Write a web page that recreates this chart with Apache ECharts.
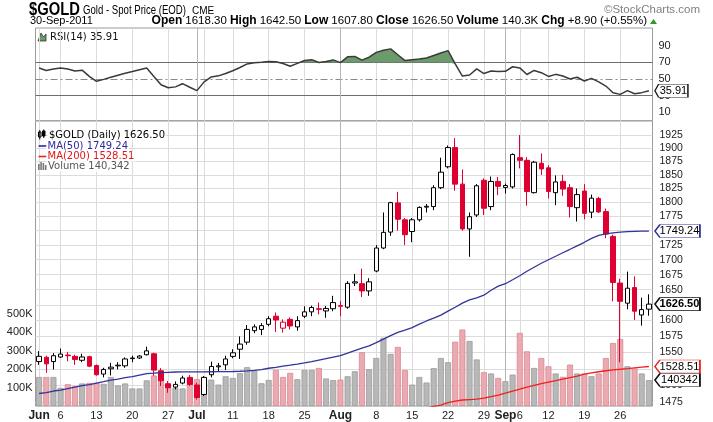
<!DOCTYPE html>
<html><head><meta charset="utf-8">
<script src="https://cdn.jsdelivr.net/npm/echarts@6/dist/echarts.min.js"></script>
<style>html,body{margin:0;padding:0;background:#fff}#c{width:713px;height:422px}</style>
</head><body><div id="c"></div>
<script>
// ---- categories (trading days) ----
const dates = [
 '2011-06-01','2011-06-02','2011-06-03','2011-06-06','2011-06-07','2011-06-08','2011-06-09','2011-06-10','2011-06-13','2011-06-14',
 '2011-06-15','2011-06-16','2011-06-17','2011-06-20','2011-06-21','2011-06-22','2011-06-23','2011-06-24','2011-06-27','2011-06-28',
 '2011-06-29','2011-06-30','2011-07-01','2011-07-05','2011-07-06','2011-07-07','2011-07-08','2011-07-11','2011-07-12','2011-07-13',
 '2011-07-14','2011-07-15','2011-07-18','2011-07-19','2011-07-20','2011-07-21','2011-07-22','2011-07-25','2011-07-26','2011-07-27',
 '2011-07-28','2011-07-29','2011-08-01','2011-08-02','2011-08-03','2011-08-04','2011-08-05','2011-08-08','2011-08-09','2011-08-10',
 '2011-08-11','2011-08-12','2011-08-15','2011-08-16','2011-08-17','2011-08-18','2011-08-19','2011-08-22','2011-08-23','2011-08-24',
 '2011-08-25','2011-08-26','2011-08-29','2011-08-30','2011-08-31','2011-09-01','2011-09-02','2011-09-06','2011-09-07','2011-09-08',
 '2011-09-09','2011-09-12','2011-09-13','2011-09-14','2011-09-15','2011-09-16','2011-09-19','2011-09-20','2011-09-21','2011-09-22',
 '2011-09-23','2011-09-26','2011-09-27','2011-09-28','2011-09-29','2011-09-30'];

// ---- series values ----
const opens = [
 1536,1542.5,1536,1543,1546,1544,1538,1543.5,1530,1517,
 1525,1529.5,1529.5,1540.5,1541.5,1546.5,1548,1522,1502.5,1497.5,
 1503.5,1512,1500.5,1486.5,1516,1528,1531,1544,1555,1566,
 1584,1586,1594,1607,1588,1602,1590,1607,1614,1619,
 1615.5,1619,1624,1621.5,1661,1660,1648,1681,1720,1747.5,
 1799,1769,1748.5,1769,1791.5,1792.5,1826.5,1865,1901,1833,
 1753,1777.5,1840,1792.5,1838,1827,1828,1882,1877,1817.5,
 1871.5,1863,1817.5,1838,1826.5,1790.5,1820.5,1782.5,1807,1783.5,
 1740,1661,1628,1653.5,1609,1618.3];
const highs = [
 1552,1545,1549,1556,1551,1546.5,1548,1545,1531.5,1526.5,
 1534,1535,1542.5,1545,1546,1559,1549.5,1526,1506.5,1506,
 1514.5,1515.5,1504,1514,1536,1534,1545,1555,1575,1593,
 1594,1596,1607,1613,1602,1605,1607,1623,1624,1629,
 1623.5,1640,1631.5,1664,1676,1685,1669,1725,1782,1801,
 1819,1772,1772,1793,1797,1831,1882,1905,1919,1860,
 1782,1833,1843.5,1847,1846,1834,1890,1925,1883,1876,
 1890,1868,1849,1850,1833,1825,1833,1814,1810,1789,
 1743,1668,1680,1672,1637,1642.5];
const lows = [
 1531,1519,1524,1541.5,1536.5,1531,1535,1527.5,1514.5,1512,
 1515,1524,1526.5,1535,1540,1545.5,1514.5,1499,1489,1494,
 1501.5,1499,1479,1484,1512,1521,1523,1541,1540,1562,
 1580,1577,1591,1582,1581,1586,1584,1604,1607,1610,
 1604.5,1615,1607,1619,1656,1638,1640,1679,1718,1741,
 1750,1725,1730,1766,1782,1786,1824,1862,1821,1750,
 1705,1774,1777.5,1786,1813,1816,1825,1862,1794,1816,
 1850,1807,1795,1812,1773,1766,1770,1772,1781,1737,
 1631,1535,1618,1601,1592,1607.8];
const closes = [
 1544,1532.5,1545,1547.5,1545,1539,1543,1529,1516,1524,
 1527.5,1530.5,1540,1541.5,1544.5,1552.5,1523,1507,1496.5,1501.5,
 1511,1501.5,1482,1512,1528.5,1529.5,1540,1549.5,1563,1586,
 1590,1592,1603,1601,1597.5,1591.5,1600,1614,1621,1618,
 1619.5,1629,1623,1660.5,1663,1648,1663,1720,1747,1799.5,
 1770,1743,1769,1791,1793,1826.5,1855,1901,1833,1753,
 1774.5,1830,1789.5,1838,1829,1830.5,1888,1877,1819.5,1873.5,
 1861,1819.5,1837,1824,1792.5,1814,1780.5,1807.5,1783,1744,
 1662,1631,1652.5,1615,1617.6,1626.5];
const volumes = [
 157000,157000,157000,98000,118000,108000,122000,125000,125000,120000,
 157000,111000,122000,95000,95000,139000,165000,147000,104000,98000,
 95000,152000,145000,143000,143000,116000,161000,152000,178000,210000,
 191000,123000,141000,196000,157000,179000,145000,195000,195000,206000,
 149000,140000,143000,161000,188000,291000,199000,260000,369000,282000,
 320000,194000,116000,157000,127000,205000,260000,237000,348000,414000,
 352000,252000,183000,176000,152000,134000,170000,396000,296000,206000,
 260000,215000,176000,158000,224000,176000,176000,161000,176000,260000,
 341000,363000,215000,203000,176000,140342];
const ma50 = [
 1487.9,1489.3,1491.6,1493.0,1495.3,1497.5,1499.7,1501.2,1503.5,1505.7,
 1508.0,1509.5,1511.7,1513.2,1515.5,1517.8,1518.5,1519.3,1519.7,1520.1,
 1520.2,1520.3,1520.3,1520.4,1520.5,1520.6,1520.8,1520.9,1521.3,1521.9,
 1522.6,1523.8,1525.8,1527.1,1529.1,1530.6,1532.2,1534.0,1536.0,1538.3,
 1540.6,1542.9,1545.2,1549.0,1552.9,1556.7,1560.3,1565.3,1570.7,1576.2,
 1581.4,1584.9,1588.8,1594.4,1599.4,1603.9,1608.7,1615.1,1621.5,1628.0,
 1633.4,1636.5,1641.0,1649.2,1655.8,1659.9,1666.5,1673.2,1680.6,1687.4,
 1694.1,1700.0,1705.9,1711.9,1717.8,1723.8,1729.8,1736.7,1741.9,1744.5,
 1746.3,1747.5,1748.4,1748.8,1749.1,1749.24];
const ma200 = [
 null,null,null,null,null,null,null,null,null,null,
 null,null,null,null,null,null,null,null,null,null,
 null,null,null,null,null,null,null,null,null,null,
 null,null,null,null,null,null,null,null,null,null,
 null,null,null,null,null,null,null,null,null,null,
 null,null,null,1464.0,1466.5,1469.0,1470.9,1474.6,1476.8,1478.3,
 1479.0,1479.7,1481.2,1483.4,1485.6,1488.6,1491.6,1494.5,1497.5,1500.1,
 1502.7,1505.0,1507.2,1509.5,1511.7,1514.0,1517.0,1518.8,1520.5,1522.0,
 1523.4,1524.3,1525.3,1526.4,1527.5,1528.51];
const rsi14 = [
 63,60.2,61.8,63.2,62,59.5,60.5,53,47.2,49.5,
 52,54.5,56.7,58.8,61,63.2,53,43,39.5,40.5,
 44.3,40,36,46.5,52.4,53.7,56.5,59.8,63.7,68,
 69.3,70.1,71,70.5,68.5,65.2,68.7,72.1,73.1,69.7,
 71,72.8,69.5,76.5,77,72.5,76,81.8,84.3,86,
 79,72,73,74,75.1,78,81,83.9,68,53.5,
 54.7,62,56.5,59.5,58.8,59.2,64.6,63.2,55.3,60.2,
 57.5,53,55.5,53.5,50,52,47.5,50.7,46.5,41.5,
 33.5,31.5,36,32.2,33.6,35.91];
const rsiOverbought = 70;

// ---- tick labels ----
const priceTicks = [1475,1500,1525,1550,1575,1600,1625,1650,1675,1700,1725,1750,1775,1800,1825,1850,1875,1900,1925];
const rsiTicks = [10,30,50,70,90];
const volumeTicks = [100000,200000,300000,400000,500000];
const xTickLabels = {'2011-06-01':'Jun','2011-06-06':'6','2011-06-13':'13','2011-06-20':'20','2011-06-27':'27',
 '2011-07-01':'Jul','2011-07-11':'11','2011-07-18':'18','2011-07-25':'25','2011-08-01':'Aug','2011-08-08':'8',
 '2011-08-15':'15','2011-08-22':'22','2011-08-29':'29','2011-09-01':'Sep','2011-09-06':'6','2011-09-12':'12',
 '2011-09-19':'19','2011-09-26':'26'};
const monthNames = ['Jun','Jul','Aug','Sep'];
const weekStarts = ['2011-06-01','2011-06-06','2011-06-13','2011-06-20','2011-06-27','2011-07-05','2011-07-11','2011-07-18',
 '2011-07-25','2011-08-01','2011-08-08','2011-08-15','2011-08-22','2011-08-29','2011-09-06','2011-09-12','2011-09-19','2011-09-26'];
const monthStarts = ['2011-07-01','2011-08-01','2011-09-01'];

// ---- styling ----
const UP = '#000000', DOWN = '#dd0030';
const FONT = '"Liberation Sans", Arial, sans-serif';
const VFONT = '"DejaVu Sans", Verdana, sans-serif';
const last = dates.length - 1;

const isUp = i => i === 0 || closes[i] >= closes[i - 1];
const ohlc = i => [opens[i], closes[i], lows[i], highs[i]];
const blackCandles = dates.map((d, i) => isUp(i) ? ohlc(i) : '-');
const redCandles = dates.map((d, i) => isUp(i) ? '-' : ohlc(i));
const volumeData = dates.map((d, i) => ({value: volumes[i],
  itemStyle: isUp(i) ? {color: '#b8b8b8', borderColor: '#9a9a9a', borderWidth: 0.8}
                     : {color: '#ebaab1', borderColor: '#d98892', borderWidth: 0.8}}));
const rsiBase = rsi14.map(v => Math.min(v, rsiOverbought));
const rsiOver = rsi14.map(v => Math.max(v - rsiOverbought, 0));

const monthMark = monthStarts.map(d => ({xAxis: d}));

function tag(xIdx, yIdx, value, text, border, offX, w, bold) {
  return {type: 'scatter', xAxisIndex: xIdx, yAxisIndex: yIdx, clip: false, silent: true, z: 20,
    data: [[dates[last], value]],
    symbol: 'path://M0,6.5L5,0L45,0L45,13L5,13Z', symbolSize: [w, 13], symbolOffset: [offX, 0],
    itemStyle: {color: '#ffffff', borderColor: border, borderWidth: 1, opacity: 1},
    label: {show: true, position: 'inside', formatter: text, color: '#000', fontFamily: FONT, fontSize: 11,
      fontWeight: bold ? 'bold' : 'normal', offset: [2, 0]}};
}

const xBase = (gi, showLabels) => ({
  type: 'category', gridIndex: gi, data: dates, boundaryGap: true,
  axisLine: {show: false}, axisTick: {show: false},
  axisLabel: showLabels ? {
    show: true, interval: (i, v) => v in xTickLabels, margin: 4, color: '#222', fontFamily: FONT, fontSize: 11,
    formatter: v => { const t = xTickLabels[v]; return monthNames.includes(t) ? '{m|' + t + '}' : t; },
    rich: {m: {fontWeight: 'bold', fontSize: 12, color: '#222', fontFamily: FONT}}
  } : {show: false},
  splitLine: {show: true, interval: (i, v) => weekStarts.includes(v), alignWithLabel: true,
    lineStyle: {color: '#dcdcdc', width: 1}}
});

const candleSeries = (name, data, col) => ({name, type: 'candlestick', xAxisIndex: 1, yAxisIndex: 1, data,
  barWidth: 5, z: 4, itemStyle: {color: '#ffffff', color0: col, borderColor: col, borderColor0: col, borderColorDoji: col, borderWidth: 1}});

const legendText = (x, y, text, fill) => ({type: 'text', x, y, z: 10,
  style: {text, font: '10px ' + VFONT, fill, verticalAlign: 'middle', backgroundColor: '#fff', padding: [0, 1]}});

const option = {
  animation: false,
  backgroundColor: '#ffffff',
  textStyle: {fontFamily: FONT},
  grid: [
    {left: 35.5, top: 28, width: 617, height: 92.7, show: true, borderColor: '#9a9a9a', borderWidth: 1, backgroundColor: '#fff'},
    {left: 35.5, top: 121, width: 617, height: 285.5, show: true, borderColor: '#9a9a9a', borderWidth: 1, backgroundColor: '#fff'}
  ],
  xAxis: [xBase(0, false), xBase(1, true)],
  yAxis: [
    {gridIndex: 0, type: 'value', min: 0, max: 111, position: 'right',
      axisLine: {show: false}, axisTick: {show: false}, splitLine: {show: false},
      axisLabel: {customValues: rsiTicks, margin: 6, color: '#222', fontSize: 11, fontFamily: FONT}},
    {gridIndex: 1, type: 'log', logBase: 10, min: 1469.5, max: 1952, position: 'right',
      axisLine: {show: false}, axisTick: {show: false, customValues: priceTicks},
      axisLabel: {customValues: priceTicks, formatter: v => String(Math.round(v)), margin: 7, color: '#222', fontSize: 10.5, fontFamily: FONT},
      splitLine: {show: true, lineStyle: {color: '#dcdcdc', width: 1}}},
    {gridIndex: 1, type: 'value', min: 0, max: 1543000, position: 'left',
      axisLine: {show: false}, axisTick: {show: false}, splitLine: {show: false},
      axisLabel: {customValues: volumeTicks, formatter: v => (v / 1000) + 'K', margin: 3, color: '#222', fontSize: 11, fontFamily: FONT}}
  ],
  series: [
    {name: 'Volume', type: 'bar', xAxisIndex: 1, yAxisIndex: 2, data: volumeData, barWidth: 6, z: 1},
    candleSeries('$GOLD up', blackCandles, UP),
    candleSeries('$GOLD down', redCandles, DOWN),
    {name: 'MA(50)', type: 'line', xAxisIndex: 1, yAxisIndex: 1, data: ma50, symbol: 'none', z: 5,
      lineStyle: {color: '#333399', width: 1.3}, itemStyle: {color: '#333399'},
      markLine: {silent: true, symbol: 'none', label: {show: false}, lineStyle: {color: '#b4b4b4', width: 1, type: 'solid'},
        data: monthMark, z: 0}},
    {name: 'MA(200)', type: 'line', xAxisIndex: 1, yAxisIndex: 1, data: ma200, symbol: 'none', z: 5,
      lineStyle: {color: '#ee2020', width: 1.3}, itemStyle: {color: '#ee2020'}},
    {name: 'RSI base', type: 'line', xAxisIndex: 0, yAxisIndex: 0, data: rsiBase, stack: 'rsi', symbol: 'none', z: 2,
      lineStyle: {width: 0, opacity: 0}, silent: true},
    {name: 'RSI over', type: 'line', xAxisIndex: 0, yAxisIndex: 0, data: rsiOver, stack: 'rsi', symbol: 'none', z: 2,
      lineStyle: {width: 0, opacity: 0}, areaStyle: {color: '#6b9a6b', opacity: 1}, silent: true},
    {name: 'RSI(14)', type: 'line', xAxisIndex: 0, yAxisIndex: 0, data: rsi14, symbol: 'none', z: 5,
      lineStyle: {color: '#3a3a3a', width: 1.5}, itemStyle: {color: '#3a3a3a'},
      markLine: {silent: true, symbol: 'none', label: {show: false}, z: 1,
        lineStyle: {color: '#b4b4b4', width: 1, type: 'solid'},
        data: [
          {yAxis: 70, lineStyle: {color: '#6e6e6e', width: 1.2, type: 'solid'}},
          {yAxis: 30, lineStyle: {color: '#6e6e6e', width: 1.2, type: 'solid'}},
          {yAxis: 50, lineStyle: {color: '#8a8a8a', width: 1.2, type: [7, 3, 2, 3]}}
        ].concat(monthMark)}},
    tag(0, 0, rsi14[last], rsi14[last].toFixed(2), '#222', 22.5, 33, false),
    tag(1, 1, ma50[last], ma50[last].toFixed(2), '#333399', 28.5, 45, false),
    tag(1, 1, closes[last], closes[last].toFixed(2), '#111', 28.5, 45, true),
    tag(1, 1, ma200[last], ma200[last].toFixed(2), '#ee2020', 28.5, 45, false),
    tag(1, 2, volumes[last], String(volumes[last]), '#111', 28.5, 45, false)
  ],
  graphic: [
    {type: 'text', x: 29, y: 10, scaleX: 0.82, style: {text: '$GOLD', font: 'bold 18px "Liberation Sans"', fill: '#000', verticalAlign: 'middle'}},
    {type: 'text', x: 83, y: 11, scaleX: 0.8, style: {text: 'Gold - Spot Price (EOD)', font: '12px "Liberation Sans"', fill: '#000', verticalAlign: 'middle'}},
    {type: 'text', x: 192, y: 11.5, style: {text: 'CME', font: '10px "Liberation Sans"', fill: '#000', verticalAlign: 'middle'}},
    {type: 'text', x: 700, y: 10, style: {text: '\u00A9StockCharts.com', font: '11.5px "Liberation Sans"', fill: '#808080', align: 'right', verticalAlign: 'middle'}},
    {type: 'text', x: 30, y: 21, style: {text: '30-Sep-2011', font: '11px "Liberation Sans"', fill: '#000', verticalAlign: 'middle'}},
    {type: 'text', x: 647, y: 21, style: {
      text: '{b|Open} {v|1618.30} {b|High} {v|1642.50} {b|Low} {v|1607.80} {b|Close} {v|1626.50} {b|Volume} {v|140.3K} {b|Chg} {v|+8.90 (+0.55%)}',
      align: 'right', verticalAlign: 'middle', font: '11px "Liberation Sans"', fill: '#000',
      rich: {b: {font: 'bold 12px "Liberation Sans"', fill: '#000'}, v: {font: '11.5px "Liberation Sans"', fill: '#000'}}}},
    {type: 'polygon', shape: {points: [[650, 24], [653.5, 19], [657, 24]]}, style: {fill: '#2a9a2a'}},
    // RSI legend
    {type: 'polygon', shape: {points: [[38, 41], [41, 33], [43.5, 37], [46, 34], [46, 41]]}, style: {fill: '#6b9a6b', stroke: '#333', lineWidth: 0.8}},
    {type: 'text', x: 50, y: 37, style: {text: 'RSI(14) 35.91', font: '10px ' + VFONT, fill: '#111', verticalAlign: 'middle'}},
    // main legend
    {type: 'rect', z: 10, shape: {x: 38.5, y: 132, width: 2.5, height: 5}, style: {fill: '#fff', stroke: '#000', lineWidth: 1}},
    {type: 'line', z: 10, shape: {x1: 39.75, y1: 130, x2: 39.75, y2: 139.5}, style: {stroke: '#000', lineWidth: 1}},
    {type: 'rect', z: 10, shape: {x: 42.5, y: 131, width: 2.5, height: 5}, style: {fill: '#000', stroke: '#000', lineWidth: 1}},
    {type: 'line', z: 10, shape: {x1: 43.75, y1: 129.5, x2: 43.75, y2: 138}, style: {stroke: '#000', lineWidth: 1}},
    legendText(48, 135, '$GOLD (Daily) 1626.50', '#000'),
    {type: 'line', z: 10, shape: {x1: 38.5, y1: 146, x2: 46.5, y2: 146}, style: {stroke: '#2b2b9e', lineWidth: 1.6}},
    legendText(46.5, 146, 'MA(50) 1749.24', '#2b2b9e'),
    {type: 'line', z: 10, shape: {x1: 38.5, y1: 156.5, x2: 46.5, y2: 156.5}, style: {stroke: '#ee2020', lineWidth: 1.6}},
    legendText(46.5, 156.5, 'MA(200) 1528.51', '#e01818'),
    {type: 'rect', z: 10, shape: {x: 38, y: 164, width: 1.6, height: 6}, style: {fill: '#777'}},
    {type: 'rect', z: 10, shape: {x: 40.3, y: 162, width: 1.6, height: 8}, style: {fill: '#777'}},
    {type: 'rect', z: 10, shape: {x: 42.6, y: 163, width: 1.6, height: 7}, style: {fill: '#777'}},
    {type: 'rect', z: 10, shape: {x: 44.9, y: 165, width: 1.6, height: 5}, style: {fill: '#777'}},
    legendText(47, 166.5, 'Volume 140,342', '#555')
  ]
};
const chart = echarts.init(document.getElementById('c'), null, {renderer: 'canvas'});
chart.setOption(option);
</script>
</body></html>
